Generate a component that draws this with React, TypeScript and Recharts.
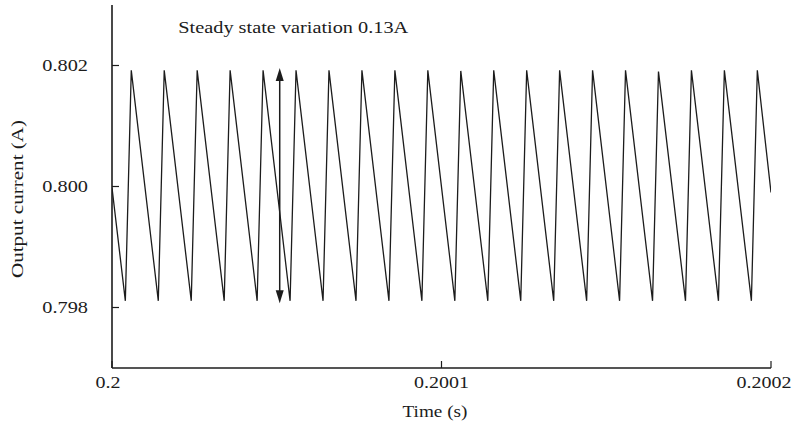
import { LineChart, Line, XAxis, YAxis, ReferenceLine } from "recharts";

// time in seconds, current in amps
const timeS = [
  0.2,
  0.20000405, 0.20000585,
  0.20001405, 0.20001585,
  0.20002405, 0.20002585,
  0.20003405, 0.20003585,
  0.20004405, 0.20004585,
  0.20005405, 0.20005585,
  0.20006405, 0.20006585,
  0.20007405, 0.20007585,
  0.20008405, 0.20008585,
  0.20009405, 0.20009585,
  0.20010405, 0.20010585,
  0.20011405, 0.20011585,
  0.20012405, 0.20012585,
  0.20013405, 0.20013585,
  0.20014405, 0.20014585,
  0.20015405, 0.20015585,
  0.20016405, 0.20016585,
  0.20017405, 0.20017585,
  0.20018405, 0.20018585,
  0.20019405, 0.20019585,
  0.2002,
];

const currentA = [
  0.79998,
  0.79811, 0.80192,
  0.79811, 0.80192,
  0.79811, 0.80192,
  0.79811, 0.80192,
  0.79811, 0.80192,
  0.79811, 0.80192,
  0.79811, 0.80192,
  0.79811, 0.80192,
  0.79811, 0.80192,
  0.79811, 0.80192,
  0.79811, 0.80191,
  0.79811, 0.80192,
  0.79811, 0.80192,
  0.79811, 0.80192,
  0.79811, 0.80192,
  0.79811, 0.80192,
  0.79811, 0.80190,
  0.79811, 0.80192,
  0.79811, 0.80192,
  0.79811, 0.80192,
  0.7999,
];

const xTicks = [0.2, 0.2001, 0.2002];
const xTickLabels = ["0.2", "0.2001", "0.2002"];
const yTicks = [0.798, 0.8, 0.802];
const yTickLabels = ["0.798", "0.800", "0.802"];

// double arrow marking the ripple band
const arrowTime = 0.2000509;
const arrowLow = 0.79807;
const arrowHigh = 0.80196;

const title = "Steady state variation 0.13A";
const xTitle = "Time (s)";
const yTitle = "Output current (A)";

const data = timeS.map((t, i) => ({ t, current: currentA[i] }));

const font = "'Liberation Serif', 'Times New Roman', serif";
const ink = "#1c1c1c";

function XTick(props: any) {
  const { x, y, payload } = props;
  const label = xTickLabels[xTicks.indexOf(payload.value)] ?? String(payload.value);
  // end labels sit slightly left of their ticks, like in the original
  const shift = label === "0.2002" ? -7 : label === "0.2" ? -4 : 0;
  return (
    <g transform={`translate(${x + shift},${y}) scale(1.25,1)`}>
      <text x={0} y={11} textAnchor="middle" fontSize={16} fontFamily={font} fill={ink}>
        {label}
      </text>
    </g>
  );
}

function YTick(props: any) {
  const { x, y, payload } = props;
  const label = yTickLabels[yTicks.indexOf(payload.value)] ?? String(payload.value);
  return (
    <g transform={`translate(${x},${y}) scale(1.27,1)`}>
      <text x={0} y={5.5} textAnchor="end" fontSize={16} fontFamily={font} fill={ink}>
        {label}
      </text>
    </g>
  );
}

function DoubleArrow(props: any) {
  const { x1, y1, y2 } = props;
  const top = Math.min(y1, y2);
  const bottom = Math.max(y1, y2);
  const head = 13;
  const half = 4;
  return (
    <g>
      <line x1={x1} y1={top + head - 2} x2={x1} y2={bottom - head + 2} stroke={ink} strokeWidth={1.5} />
      <polygon points={`${x1},${top} ${x1 - half},${top + head} ${x1 + half},${top + head}`} fill={ink} />
      <polygon
        points={`${x1},${bottom} ${x1 - half},${bottom - head} ${x1 + half},${bottom - head}`}
        fill={ink}
      />
    </g>
  );
}

export default function App() {
  return (
    <div style={{ position: "absolute", left: 0, top: 0, background: "#fff" }}>
      <LineChart width={794} height={427} data={data} margin={{ top: 5, right: 23, left: 0, bottom: 19 }}>
        <XAxis
          dataKey="t"
          type="number"
          domain={[0.2, 0.2002]}
          ticks={xTicks}
          allowDataOverflow
          height={40}
          axisLine={{ stroke: ink, strokeWidth: 1.6 }}
          tickLine={{ stroke: ink, strokeWidth: 1.2 }}
          tickSize={-7}
          tickMargin={16}
          tick={<XTick />}
        />
        <YAxis
          type="number"
          domain={[0.797, 0.803]}
          ticks={yTicks}
          allowDataOverflow
          width={112}
          axisLine={{ stroke: ink, strokeWidth: 1.6 }}
          tickLine={{ stroke: ink, strokeWidth: 1.2 }}
          tickSize={-7}
          tickMargin={31}
          tick={<YTick />}
        />
        <Line
          type="linear"
          dataKey="current"
          stroke={ink}
          strokeWidth={1.3}
          dot={false}
          activeDot={false}
          isAnimationActive={false}
        />
        <ReferenceLine
          segment={[
            { x: arrowTime, y: arrowLow },
            { x: arrowTime, y: arrowHigh },
          ]}
          shape={<DoubleArrow />}
        />
        <g transform="translate(178.3,33) scale(1.27,1)">
          <text x={0} y={0} fontSize={16} fontFamily={font} fill={ink}>
            {title}
          </text>
        </g>
        <g transform="translate(435,417) scale(1.2,1)">
          <text x={0} y={0} textAnchor="middle" fontSize={16} fontFamily={font} fill={ink}>
            {xTitle}
          </text>
        </g>
        <g transform="translate(22.5,199) rotate(-90) scale(1.32,1)">
          <text x={0} y={0} textAnchor="middle" fontSize={16} fontFamily={font} fill={ink}>
            {yTitle}
          </text>
        </g>
      </LineChart>
    </div>
  );
}
